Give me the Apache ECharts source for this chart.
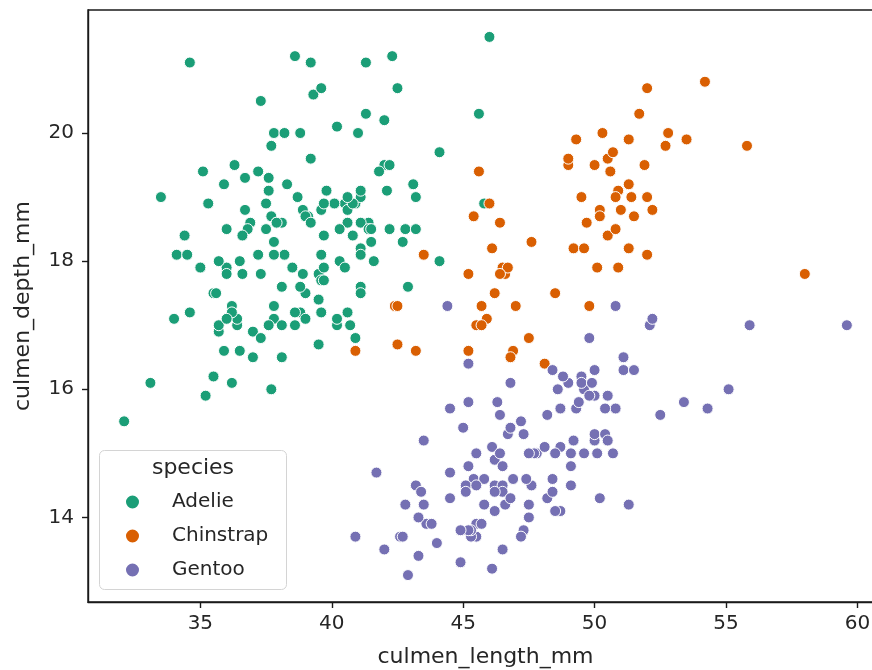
<!DOCTYPE html>
<html>
<head>
<meta charset="utf-8">
<script src="https://cdn.jsdelivr.net/npm/echarts@6/dist/echarts.min.js"></script>
<style>html,body{margin:0;padding:0;background:#fff;}#main{width:872px;height:670px;}</style>
</head>
<body>
<div id="main"></div>
<script>
const speciesNames = ['Adelie', 'Chinstrap', 'Gentoo'];
const xTicks = [35, 40, 45, 50, 55, 60];
const yTicks = [14, 16, 18, 20];

// [culmen_length_mm, culmen_depth_mm]
const adelie = [
[39.1,18.7],[39.5,17.4],[40.3,18.0],[36.7,19.3],[39.3,20.6],[38.9,17.8],[39.2,19.6],[34.1,18.1],[42.0,20.2],[37.8,17.1],
[37.8,17.3],[41.1,17.6],[38.6,21.2],[34.6,21.1],[36.6,17.8],[38.7,19.0],[42.5,20.7],[34.4,18.4],[46.0,21.5],[37.8,18.3],
[37.7,18.7],[35.9,19.2],[38.2,18.1],[38.8,17.2],[35.3,18.9],[40.6,18.6],[40.5,17.9],[37.9,18.6],[40.5,18.9],[39.5,16.7],
[37.2,18.1],[39.5,17.8],[40.9,18.9],[36.4,17.0],[39.2,21.1],[38.8,20.0],[42.2,18.5],[37.6,19.3],[39.8,19.1],[36.5,18.0],
[40.8,18.4],[36.0,18.5],[44.1,19.7],[37.0,16.9],[39.6,18.8],[41.1,19.0],[37.5,18.9],[36.0,17.9],[42.3,21.2],[39.6,17.7],
[40.1,18.9],[35.0,17.9],[42.0,19.5],[34.5,18.1],[41.4,18.6],[39.0,17.5],[40.6,18.8],[36.5,16.6],[37.6,19.1],[35.7,16.9],
[41.3,21.1],[37.6,17.0],[41.1,18.2],[36.4,17.1],[41.6,18.0],[35.5,16.2],[41.1,19.1],[35.9,16.6],[41.8,19.4],[33.5,19.0],
[39.7,18.4],[39.6,17.2],[45.8,18.9],[35.5,17.5],[42.8,18.5],[40.9,16.8],[37.2,19.4],[36.2,16.1],[42.1,19.1],[34.6,17.2],
[42.9,17.6],[36.7,18.8],[35.1,19.4],[37.3,17.8],[41.3,20.3],[36.3,19.5],[36.9,18.6],[38.3,19.2],[38.9,18.8],[35.7,18.0],
[41.1,18.1],[34.0,17.1],[39.6,18.1],[36.2,17.3],[40.8,18.9],[38.1,18.6],[40.3,18.5],[33.1,16.1],[43.2,18.5],[35.0,17.9],
[41.0,20.0],[37.7,16.0],[37.8,20.0],[37.9,18.6],[39.7,18.9],[38.6,17.2],[38.2,20.0],[38.1,17.0],[43.2,19.0],[38.1,16.5],
[45.6,20.3],[39.7,17.7],[42.2,19.5],[39.6,20.7],[42.7,18.3],[38.6,17.0],[37.3,20.5],[35.7,17.0],[41.1,18.6],[36.2,17.2],
[37.7,19.8],[40.2,17.0],[41.4,18.5],[35.2,15.9],[40.6,19.0],[38.8,17.6],[41.5,18.3],[39.0,17.1],[44.1,18.0],[38.5,17.9],
[43.1,19.2],[36.8,18.5],[37.5,18.5],[38.1,17.6],[41.1,17.5],[35.6,17.5],[40.2,20.1],[37.0,16.5],[39.7,17.9],[40.2,17.1],
[40.6,17.2],[32.1,15.5],[40.7,17.0],[37.3,16.8],[39.0,18.7],[39.2,18.6],[36.6,18.4],[36.0,17.8],[37.8,18.1],[36.0,17.1],
[41.5,18.5]
];
const chinstrap = [
[46.5,17.9],[50.0,19.5],[51.3,19.2],[45.4,18.7],[52.7,19.8],[45.2,17.8],[46.1,18.2],[51.3,18.2],[46.0,18.9],[51.3,19.9],
[46.6,17.8],[51.7,20.3],[47.0,17.3],[52.0,18.1],[45.9,17.1],[50.5,19.6],[50.3,20.0],[58.0,17.8],[46.4,18.6],[49.2,18.2],
[42.4,17.3],[48.5,17.5],[43.2,16.6],[50.6,19.4],[46.7,17.9],[52.0,19.0],[50.5,18.4],[49.5,19.0],[46.4,17.8],[52.8,20.0],
[40.9,16.6],[54.2,20.8],[42.5,16.7],[51.0,18.8],[49.7,18.6],[47.5,16.8],[47.6,18.3],[52.0,20.7],[46.9,16.6],[53.5,19.9],
[49.0,19.5],[46.2,17.5],[50.9,19.1],[45.5,17.0],[50.9,17.9],[50.8,18.5],[50.1,17.9],[49.0,19.6],[51.5,18.7],[49.8,17.3],
[48.1,16.4],[51.4,19.0],[45.7,17.3],[50.7,19.7],[42.5,17.3],[52.2,18.8],[45.2,16.6],[49.3,19.9],[50.2,18.8],[45.6,19.4],
[51.9,19.5],[46.8,16.5],[45.7,17.0],[55.8,19.8],[43.5,18.1],[49.6,18.2],[50.8,19.0],[50.2,18.7]
];
const gentoo = [
[46.1,13.2],[50.0,16.3],[48.7,14.1],[50.0,15.2],[47.6,14.5],[46.5,13.5],[45.4,14.6],[46.7,15.3],[43.3,13.4],[46.8,15.4],
[40.9,13.7],[49.0,16.1],[45.5,13.7],[48.4,14.6],[45.8,14.6],[49.3,15.7],[42.0,13.5],[49.2,15.2],[46.2,14.5],[48.7,15.1],
[50.2,14.3],[45.1,14.5],[46.5,14.5],[46.3,15.8],[42.9,13.1],[46.1,15.1],[44.5,14.3],[47.8,15.0],[48.2,14.3],[50.0,15.3],
[47.3,15.3],[42.8,14.2],[45.1,14.5],[59.6,17.0],[49.1,14.8],[48.4,16.3],[42.6,13.7],[44.4,17.3],[44.0,13.6],[48.7,15.7],
[42.7,13.7],[49.6,16.0],[45.3,13.7],[49.6,15.0],[50.5,15.9],[43.6,13.9],[45.5,13.9],[50.5,15.9],[44.9,13.3],[45.2,15.8],
[46.6,14.2],[48.5,14.1],[45.1,14.4],[50.1,15.0],[46.5,14.4],[45.0,15.4],[43.8,13.9],[45.5,15.0],[43.2,14.5],[50.4,15.3],
[45.3,13.8],[46.2,14.9],[45.7,13.9],[54.3,15.7],[45.8,14.2],[49.8,16.8],[46.2,14.4],[49.5,16.2],[43.5,14.2],[50.7,15.0],
[47.7,15.0],[46.4,15.6],[48.2,15.6],[46.5,14.8],[46.4,15.0],[48.6,16.0],[47.5,14.2],[51.1,16.3],[45.2,13.8],[45.2,16.4],
[49.1,14.5],[52.5,15.6],[47.4,14.6],[50.0,15.9],[44.9,13.8],[50.8,17.3],[43.4,14.4],[51.3,14.2],[47.5,14.0],[52.1,17.0],
[47.5,15.0],[52.2,17.1],[45.5,14.5],[49.5,16.1],[44.5,14.7],[50.8,15.7],[49.4,15.8],[46.9,14.6],[48.4,14.4],[51.1,16.5],
[48.5,15.0],[55.9,17.0],[47.2,15.5],[49.1,15.0],[47.3,13.8],[46.8,16.1],[41.7,14.7],[53.4,15.8],[43.3,14.0],[48.1,15.1],
[50.5,15.2],[49.8,15.9],[43.5,15.2],[51.5,16.3],[46.2,14.1],[55.1,16.0],[44.5,15.7],[48.8,16.2],[47.2,13.7],[46.8,14.3],
[50.4,15.7],[45.2,14.8],[49.9,16.1]
];

const colors = ['#1b9e77', '#d95f02', '#7570b3'];
const seriesData = [adelie, chinstrap, gentoo];
const FONT = 'DejaVu Sans';
const TXT = '#262626';

const chart = echarts.init(document.getElementById('main'), null, {renderer: 'canvas'});

const series = speciesNames.map((name, i) => ({
  name: name,
  type: 'scatter',
  data: seriesData[i],
  symbol: 'circle',
  symbolSize: 11,
  itemStyle: {color: colors[i], borderColor: '#ffffff', borderWidth: 1, opacity: 1},
  emphasis: {disabled: true},
  z: 2
}));

chart.setOption({
  animation: false,
  backgroundColor: '#ffffff',
  textStyle: {fontFamily: FONT},
  grid: {
    left: 88, top: 10, width: 795, bottom: 68,
    outerBoundsMode: 'none',
    containLabel: false,
    show: true, borderColor: '#1a1a1a', borderWidth: 1.4, backgroundColor: 'transparent'
  },
  xAxis: {
    type: 'value',
    min: 30.725, max: 60.975,
    name: 'culmen_length_mm',
    nameLocation: 'middle',
    nameGap: 44,
    nameTextStyle: {fontFamily: FONT, fontSize: 22, color: TXT},
    axisLine: {show: true, lineStyle: {color: '#1a1a1a', width: 1.4}},
    axisTick: {show: true, length: 6, inside: false, customValues: xTicks, lineStyle: {color: '#1a1a1a', width: 1.4}},
    axisLabel: {customValues: xTicks, fontFamily: FONT, fontSize: 20, color: TXT, margin: 12},
    splitLine: {show: false}
  },
  yAxis: {
    type: 'value',
    min: 12.68, max: 21.92,
    name: 'culmen_depth_mm',
    nameLocation: 'middle',
    nameRotate: 90,
    nameGap: 54,
    nameTextStyle: {fontFamily: FONT, fontSize: 22, color: TXT},
    axisLine: {show: true, lineStyle: {color: '#1a1a1a', width: 1.4}},
    axisTick: {show: true, length: 6, inside: false, customValues: yTicks, lineStyle: {color: '#1a1a1a', width: 1.4}},
    axisLabel: {customValues: yTicks, fontFamily: FONT, fontSize: 20, color: TXT, margin: 14},
    splitLine: {show: false}
  },
  legend: {
    show: true,
    orient: 'vertical',
    left: 124,
    top: 492,
    padding: 0,
    itemWidth: 15,
    itemHeight: 15,
    itemGap: 14,
    icon: 'circle',
    z: 20,
    data: speciesNames,
    textStyle: {fontFamily: FONT, fontSize: 20, color: TXT, lineHeight: 20, padding: [0, 0, 0, 27]}
  },
  graphic: [
    {
      type: 'rect', z: 10,
      shape: {x: 99.5, y: 450.5, width: 187, height: 139, r: 5},
      style: {fill: 'rgba(255,255,255,0.8)', stroke: '#d4d4d4', lineWidth: 1}
    },
    {
      type: 'text', z: 11,
      x: 193, y: 468,
      style: {text: 'species', font: '22px "DejaVu Sans"', fill: TXT, align: 'center', verticalAlign: 'middle'}
    }
  ],
  series: series
});
</script>
</body>
</html>
